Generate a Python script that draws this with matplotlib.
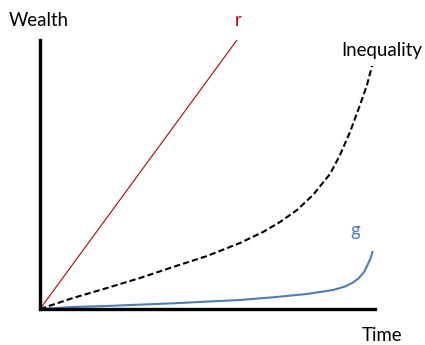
import matplotlib
matplotlib.use("Agg")
import matplotlib.pyplot as plt

# ----------------------------------------
# Data (time 0-100, wealth 0-100)
# ----------------------------------------
r_time = [0, 58.8]
r_wealth = [0, 100]

ineq_time = [0, 9.85, 20.0, 29.85, 39.7, 49.85, 59.7, 66.57, 71.64, 76.72,
             81.49, 86.57, 89.55, 92.54, 95.52, 97.61, 99.1]
ineq_wealth = [0, 4.09, 7.81, 11.52, 15.61, 19.7, 24.54, 28.62, 32.34, 36.8,
               42.38, 50.19, 57.25, 65.8, 75.84, 83.27, 90.33]

g_time = [0, 9.85, 20.0, 39.7, 59.7, 69.55, 79.7, 87.46, 91.04, 93.43,
          95.22, 96.72, 97.91, 98.81, 99.25]
g_wealth = [0, 0.74, 1.12, 2.12, 3.35, 4.35, 5.58, 7.06, 8.36, 9.85,
            11.52, 13.75, 16.73, 19.33, 21.19]

RED = "#C00000"
BLUE = "#4A7EBB"

plt.rcParams["font.family"] = ["Lato", "DejaVu Sans"]

# ----------------------------------------
# Plot
# ----------------------------------------
fig = plt.figure(figsize=(4.25, 3.45), dpi=100)
ax = fig.add_axes([40 / 425, 36 / 345, 335 / 425, 269 / 345])

ax.plot(r_time, r_wealth, color=RED, lw=0.8, solid_capstyle="butt")
ax.plot(ineq_time, ineq_wealth, color="black", lw=1.5, dashes=(3, 1.5))
ax.plot(g_time, g_wealth, color=BLUE, lw=1.5, solid_joinstyle="round")

ax.set_xlim(0, 100)
ax.set_ylim(0, 100)
for s in ["top", "right"]:
    ax.spines[s].set_visible(False)
for s in ["left", "bottom"]:
    ax.spines[s].set_linewidth(2.4)
ax.set_xticks([])
ax.set_yticks([])

# labels
fs = 13.4
ax.text(-0.0946, 1.0532, "Wealth", transform=ax.transAxes, fontsize=fs,
        ha="left", va="baseline")
ax.text(0.9603, -0.119, "Time", transform=ax.transAxes, fontsize=fs,
        ha="left", va="baseline")
ax.text(0.591, 1.0532, "r", transform=ax.transAxes, fontsize=fs, color=RED,
        ha="center", va="baseline")
ax.text(0.9006, 0.9416, "Inequality", transform=ax.transAxes, fontsize=fs,
        ha="left", va="baseline")
ax.text(0.9403, 0.2714, "g", transform=ax.transAxes, fontsize=fs, color=BLUE,
        ha="center", va="baseline")

fig.savefig("out.png", dpi=100)
